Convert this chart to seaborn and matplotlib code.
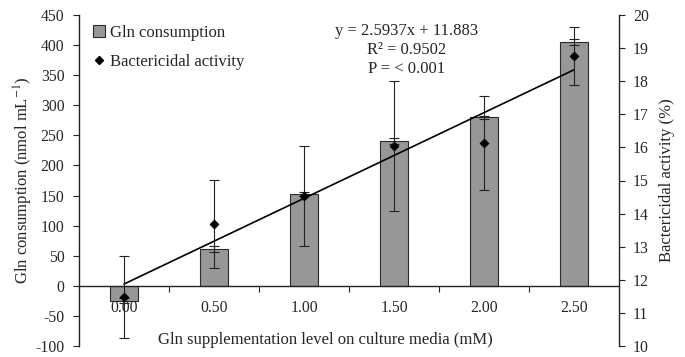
import matplotlib
matplotlib.use("Agg")
import matplotlib.pyplot as plt
import seaborn as sns
import numpy as np
import pandas as pd
from matplotlib.lines import Line2D
from matplotlib.patches import Patch
from matplotlib.ticker import FixedLocator

levels = ["0.00", "0.50", "1.00", "1.50", "2.00", "2.50"]
gln_consumption = [-25, 61, 153, 240, 280, 405]
gln_err = [4, 5, 3, 5, 3, 5]
bactericidal = [11.48, 13.69, 14.53, 16.04, 16.14, 18.77]
bact_err = [1.23, 1.32, 1.52, 1.96, 1.42, 0.87]
eq_lines = ["y = 2.5937x + 11.883", "R\u00b2 = 0.9502", "P = < 0.001"]

sns.set_theme(style="white")
plt.rcParams["font.family"] = ["Liberation Serif", "DejaVu Serif"]
plt.rcParams["mathtext.fontset"] = "stix"
plt.rcParams["axes.unicode_minus"] = False

df = pd.DataFrame({"level": levels, "gln": gln_consumption, "bact": bactericidal})
pos = np.arange(len(levels))
FS = 12
TFS = 11.3

fig = plt.figure(figsize=(6.85, 3.57), dpi=100)
ax1 = fig.add_axes([79/685, 1-346/357, 540/685, 331/357])
sns.barplot(data=df, x="level", y="gln", order=levels, color="#979797",
            edgecolor="#2a2a2a", linewidth=0.8, width=0.32, saturation=1, ax=ax1, errorbar=None)
ax1.errorbar(pos, gln_consumption, yerr=gln_err, fmt="none", ecolor="#222222",
             elinewidth=0.8, capsize=3.5, capthick=0.8)
ax1.set_axisbelow(False)
ax1.set_xlim(-0.5, 5.5)
ax1.set_ylim(-100, 450)
ax1.set_yticks(np.arange(-100, 451, 50))
ax1.spines["bottom"].set_position(("data", 0))
for s in ["top", "right"]:
    ax1.spines[s].set_visible(False)
for s in ["left", "bottom"]:
    ax1.spines[s].set_color("#222222")
    ax1.spines[s].set_linewidth(1.0)
ax1.tick_params(axis="y", which="both", direction="out", length=4, width=0.8, color="#222222",
                labelsize=TFS, pad=6.5, left=True)
ax1.tick_params(axis="x", which="major", length=0, labelsize=TFS, pad=10)
ax1.xaxis.set_minor_locator(FixedLocator(np.arange(0.5, 5.0, 1.0)))
ax1.tick_params(axis="x", which="minor", direction="out", length=4, width=0.8, color="#222222", bottom=True)
ax1.set_xlabel("Gln supplementation level on culture media (mM)", fontsize=FS)
ax1.xaxis.set_label_coords(0.456, 0.041)
ax1.set_ylabel(r"Gln consumption (nmol mL$^{-1}$)", fontsize=FS, labelpad=0)

ax2 = ax1.twinx()
sns.regplot(x=pos, y=bactericidal, ax=ax2, scatter=False, ci=None, truncate=True,
            color="black", line_kws={"linewidth": 1.2})
ax2.errorbar(pos, bactericidal, yerr=bact_err, fmt="none", ecolor="#222222",
             elinewidth=0.8, capsize=3.5, capthick=0.8)
sns.scatterplot(x=pos, y=bactericidal, ax=ax2, marker="D", s=22, color="black",
                edgecolor="black", zorder=5)
ax2.set_ylim(10, 20)
ax2.set_xlim(-0.5, 5.5)
ax2.set_yticks(np.arange(10, 21, 1))
for s in ["top", "left", "bottom"]:
    ax2.spines[s].set_visible(False)
ax2.spines["right"].set_color("#222222")
ax2.spines["right"].set_linewidth(1.0)
ax2.tick_params(axis="y", direction="out", length=4, width=0.8, color="#222222",
                labelsize=TFS, pad=6, right=True)
ax2.set_ylabel("Bactericidal activity (%)", fontsize=FS, labelpad=7)

for i, t in enumerate(eq_lines):
    ax2.text(0.607, 0.952 - i * 0.058, t, transform=ax2.transAxes, ha="center",
             va="center", fontsize=FS)

handles = [
    Patch(facecolor="#979797", edgecolor="#2a2a2a", linewidth=0.8, label="Gln consumption"),
    Line2D([], [], marker="D", color="black", linestyle="none", markersize=4.2,
           label="Bactericidal activity"),
]
ax2.legend(handles=handles, loc="upper left", bbox_to_anchor=(0.008, 1.0), frameon=False,
           fontsize=FS, handlelength=0.7, handletextpad=0.3, labelspacing=0.78,
           borderaxespad=0.2)

fig.savefig("out.png", dpi=100)
